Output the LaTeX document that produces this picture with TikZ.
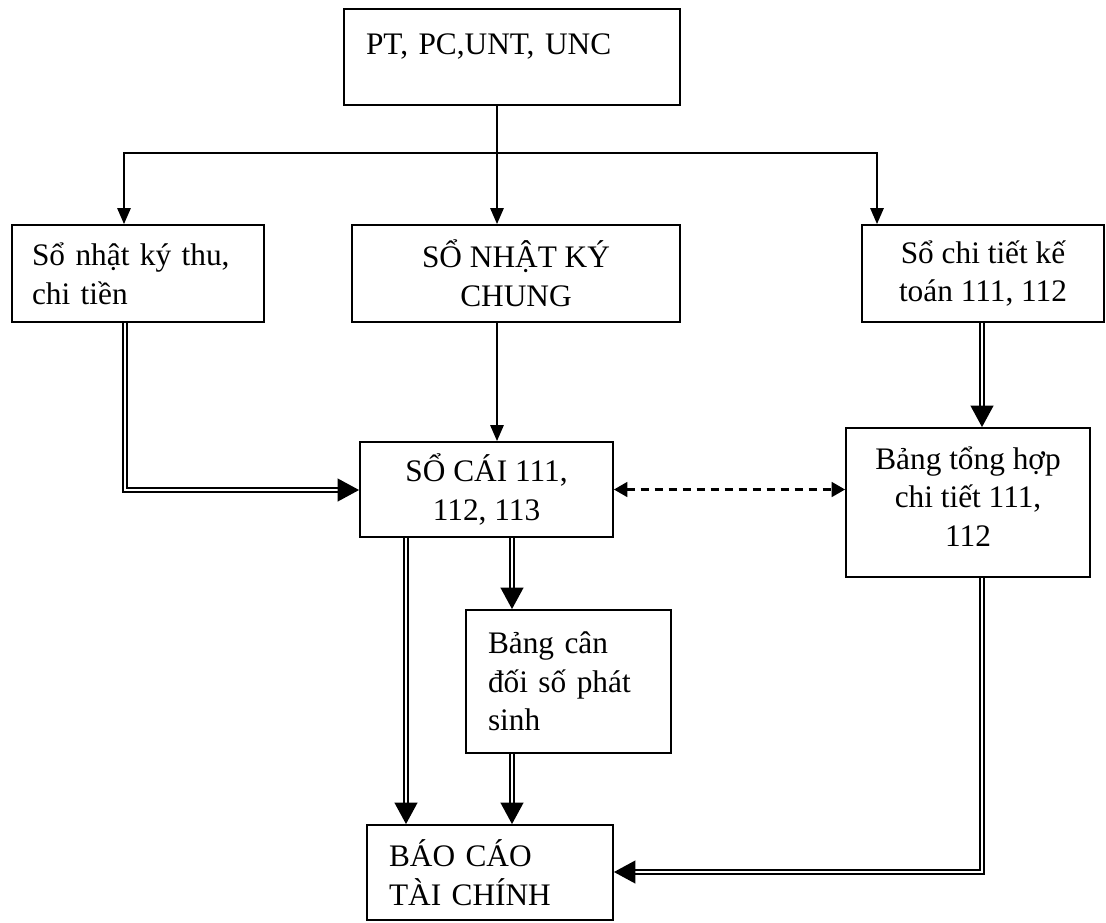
\documentclass[tikz,border=0pt]{standalone}
\usepackage{fontspec}
\setmainfont{Liberation Serif}
\usetikzlibrary{arrows.meta}
\tikzset{
  box/.style={draw, line width=1.4pt, rectangle, inner ysep=0pt, font=\fontsize{23.5}{29}\selectfont},
  arr/.style={line width=1.4pt, -{Triangle[length=12pt,width=10pt]}},
  ln/.style={line width=1.4pt},
  dbl/.style={double, line width=1.3pt, double distance=1.6pt, -{Triangle[length=16pt,width=17pt]}},
  dsh/.style={line width=1.8pt, dash pattern=on 6pt off 4.5pt, {Triangle[length=10pt,width=11pt]}-{Triangle[length=10pt,width=11pt]}}
}
\begin{document}
\begin{tikzpicture}[x=0.75pt, y=-0.75pt]
\useasboundingbox[fill=white] (0,0) rectangle (1106,922);
% boxes
\node[box, minimum width=252pt, minimum height=72pt, text width=219pt, inner xsep=16.5pt, align=left] (top) at (512,57) {PT, PC,UNT, UNC\\[-9pt]\mbox{}};
\node[box, minimum width=189pt, minimum height=72.75pt, text width=159pt, inner xsep=15pt, align=left] (l) at (138,273.5) {Sổ nhật ký thu,\\chi tiền};
\node[box, minimum width=246pt, minimum height=72.75pt, align=center] (m) at (516,273.5) {SỔ NHẬT KÝ\\CHUNG};
\node[box, minimum width=181.5pt, minimum height=72.75pt, align=center] (r) at (983,273.5) {Sổ chi tiết kế\\toán 111, 112};
\node[box, minimum width=189.75pt, minimum height=71.25pt, align=center] (cai) at (486.5,489.5) {SỔ CÁI 111,\\112, 113};
\node[box, minimum width=183pt, minimum height=111.75pt, align=center] (th) at (968,502.5) {Bảng tổng hợp\\chi tiết 111,\\112\\[-20pt]\mbox{}};
\node[box, minimum width=153.75pt, minimum height=107.25pt, text width=120.75pt, inner xsep=16.5pt, align=left] (cd) at (568.5,681.5) {Bảng cân\\đối số phát\\sinh};
\node[box, minimum width=184.5pt, minimum height=71.25pt, text width=151.5pt, inner xsep=16.5pt, align=left] (bc) at (490,872.5) {BÁO CÁO\\TÀI CHÍNH};
% junction coordinates
\coordinate (jm) at (497,153);
\coordinate (jl) at (124,153);
\coordinate (jr) at (877,153);
\coordinate (lx) at (125,490);
\coordinate (rx) at (982,872);
\coordinate (ca) at (406,0);
\coordinate (cb) at (512,0);
% connectors
\draw[ln] (top.south -| jm) -- (jm);
\draw[arr] (jm) -- (jl) -- (jl |- l.north);
\draw[arr] (jm) -- (jr) -- (jr |- r.north);
\draw[arr] (jm) -- (jm |- m.north);
\draw[arr] (m.south -| jm) -- (jm |- cai.north);
\draw[dbl] (lx |- l.south) -- (lx) -- (lx -| cai.west);
\draw[dsh] (cai.east) -- (cai.east -| th.west);
\draw[dbl] (rx |- r.south) -- (rx |- th.north);
\draw[dbl] (ca |- cai.south) -- (ca |- bc.north);
\draw[dbl] (cb |- cai.south) -- (cb |- cd.north);
\draw[dbl] (cb |- cd.south) -- (cb |- bc.north);
\draw[dbl] (rx |- th.south) -- (rx) -- (rx -| bc.east);
\end{tikzpicture}
\end{document}
